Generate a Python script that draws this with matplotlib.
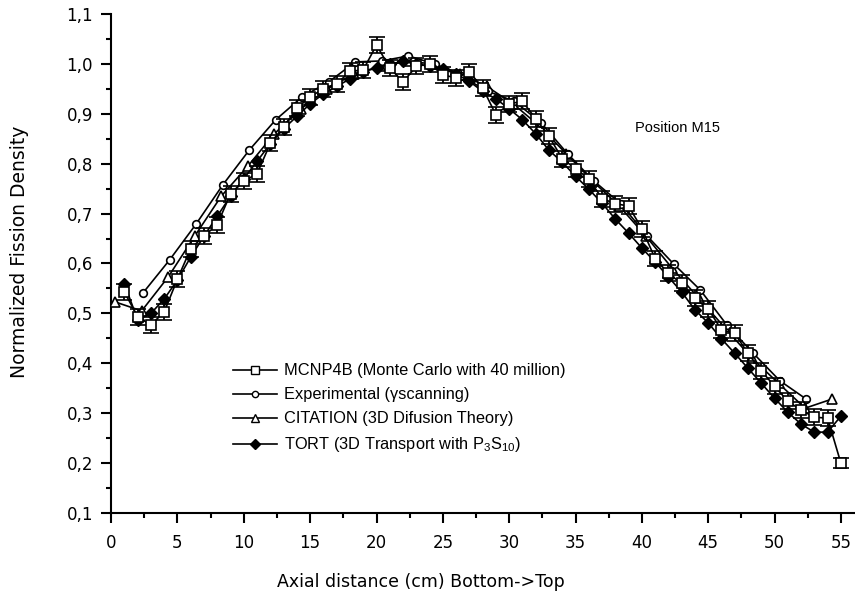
import matplotlib
matplotlib.use("Agg")
import matplotlib.pyplot as plt
from matplotlib.ticker import MultipleLocator, FuncFormatter
from matplotlib.lines import Line2D

plt.rcParams['font.family'] = ['Liberation Sans', 'DejaVu Sans']
plt.rcParams['mathtext.fontset'] = 'custom'
plt.rcParams['mathtext.rm'] = 'Liberation Sans'

# MCNP4B (open squares with error bars)
mcnp_x = list(range(1, 56))
mcnp_y = [0.543, 0.493, 0.477, 0.503, 0.569, 0.630, 0.655, 0.678, 0.740, 0.765,
          0.780, 0.841, 0.874, 0.911, 0.934, 0.950, 0.960, 0.985, 0.988, 1.038,
          0.992, 0.964, 0.995, 1.000, 0.978, 0.972, 0.984, 0.952, 0.898, 0.920,
          0.925, 0.890, 0.855, 0.810, 0.790, 0.770, 0.730, 0.720, 0.715, 0.670,
          0.610, 0.580, 0.560, 0.530, 0.509, 0.467, 0.460, 0.420, 0.385, 0.354,
          0.324, 0.306, 0.292, 0.290, 0.200]
mcnp_err = [0.016] * 54 + [0.01]

# Experimental (gamma scanning)
exp_x = [2.4 + 2 * k for k in range(26)]
exp_y = [0.541, 0.607, 0.679, 0.757, 0.827, 0.888, 0.934, 0.964, 1.004, 1.006,
         1.016, 1.000, 0.975, 0.945, 0.925, 0.882, 0.820, 0.765, 0.720, 0.655,
         0.599, 0.547, 0.477, 0.420, 0.365, 0.328]

# CITATION (3D diffusion)
cit_x = [0.3 + 2 * k for k in range(28)]
cit_y = [0.523, 0.505, 0.573, 0.655, 0.735, 0.795, 0.860, 0.910, 0.950, 0.980,
         0.995, 1.005, 1.000, 0.980, 0.955, 0.920, 0.875, 0.820, 0.765, 0.715,
         0.655, 0.590, 0.530, 0.470, 0.410, 0.360, 0.310, 0.328]

# TORT (3D transport)
tort_x = list(range(1, 56))
tort_y = [0.559, 0.487, 0.500, 0.529, 0.567, 0.613, 0.655, 0.695, 0.735, 0.770,
          0.805, 0.840, 0.870, 0.895, 0.920, 0.940, 0.955, 0.970, 0.984, 0.992,
          1.000, 1.005, 1.000, 0.995, 0.990, 0.980, 0.965, 0.945, 0.930, 0.910,
          0.888, 0.860, 0.827, 0.803, 0.775, 0.749, 0.721, 0.689, 0.661, 0.631,
          0.603, 0.573, 0.543, 0.507, 0.481, 0.449, 0.420, 0.390, 0.360, 0.330,
          0.302, 0.278, 0.262, 0.262, 0.294]

labels = ["MCNP4B (Monte Carlo with 40 million)",
          "Experimental (\u03b3scanning)",
          "CITATION (3D Difusion Theory)",
          r"TORT (3D Transport with P$_{3}$S$_{10}$)"]

fig = plt.figure(figsize=(8.55, 5.94), dpi=100)
ax = fig.add_axes([0.130, 0.1364, 0.869, 0.84])

lw = 1.2
ax.plot(cit_x, cit_y, '-', color='black', lw=lw, marker='^', ms=7,
        mfc='white', mec='black', mew=1.2, zorder=3)
ax.plot(exp_x, exp_y, '-', color='black', lw=lw, marker='o', ms=5.5,
        mfc='white', mec='black', mew=1.2, zorder=4)
ax.plot(tort_x, tort_y, '-', color='black', lw=lw, marker='D', ms=6.5,
        mfc='black', mec='black', zorder=5)
ax.errorbar(mcnp_x, mcnp_y, yerr=mcnp_err, fmt='-s', color='black', lw=lw,
            ms=7, mfc='white', mec='black', mew=1.2, ecolor='black',
            elinewidth=1.3, capsize=5.5, capthick=1.6, zorder=6)

ax.set_xlim(0, 56)
ax.set_ylim(0.1, 1.1)
ax.xaxis.set_major_locator(MultipleLocator(5))
ax.xaxis.set_minor_locator(MultipleLocator(2.5))
ax.yaxis.set_major_locator(MultipleLocator(0.1))
ax.yaxis.set_minor_locator(MultipleLocator(0.05))
ax.yaxis.set_major_formatter(FuncFormatter(lambda v, p: f"{v:.1f}".replace('.', ',')))

for s in ['top', 'right']:
    ax.spines[s].set_visible(False)
for s in ['left', 'bottom']:
    ax.spines[s].set_linewidth(1.5)
ax.tick_params(which='major', direction='out', length=7, width=1.5, labelsize=12)
ax.tick_params(which='minor', direction='out', length=3.5, width=1.5)
ax.tick_params(axis='x', which='major', pad=8)
ax.tick_params(axis='y', which='major', pad=6)
for lab in ax.get_xticklabels() + ax.get_yticklabels():
    lab.set_family('DejaVu Sans')

fig.text(421 / 855, 0.02, "Axial distance (cm) Bottom->Top", ha='center',
         va='center', fontsize=12.5, family='DejaVu Sans')
fig.text(20 / 855, 0.576, "Normalized Fission Density", rotation=90,
         ha='center', va='center', fontsize=13.5, family='DejaVu Sans')
ax.text(39.5, 0.872, "Position M15", ha='left', va='center', fontsize=10.5)

handles = [
    Line2D([], [], color='black', lw=lw, marker='s', ms=6, mfc='white', mec='black'),
    Line2D([], [], color='black', lw=lw, marker='o', ms=4.5, mfc='white', mec='black'),
    Line2D([], [], color='black', lw=lw, marker='^', ms=6, mfc='white', mec='black'),
    Line2D([], [], color='black', lw=lw, marker='D', ms=5, mfc='black', mec='black'),
]
ax.legend(handles, labels, loc='upper left', bbox_to_anchor=(0.155, 0.313),
          frameon=False, fontsize=11.8, handlelength=2.7, handletextpad=0.4,
          labelspacing=0.55, borderaxespad=0)

fig.savefig("out.png", dpi=100)
